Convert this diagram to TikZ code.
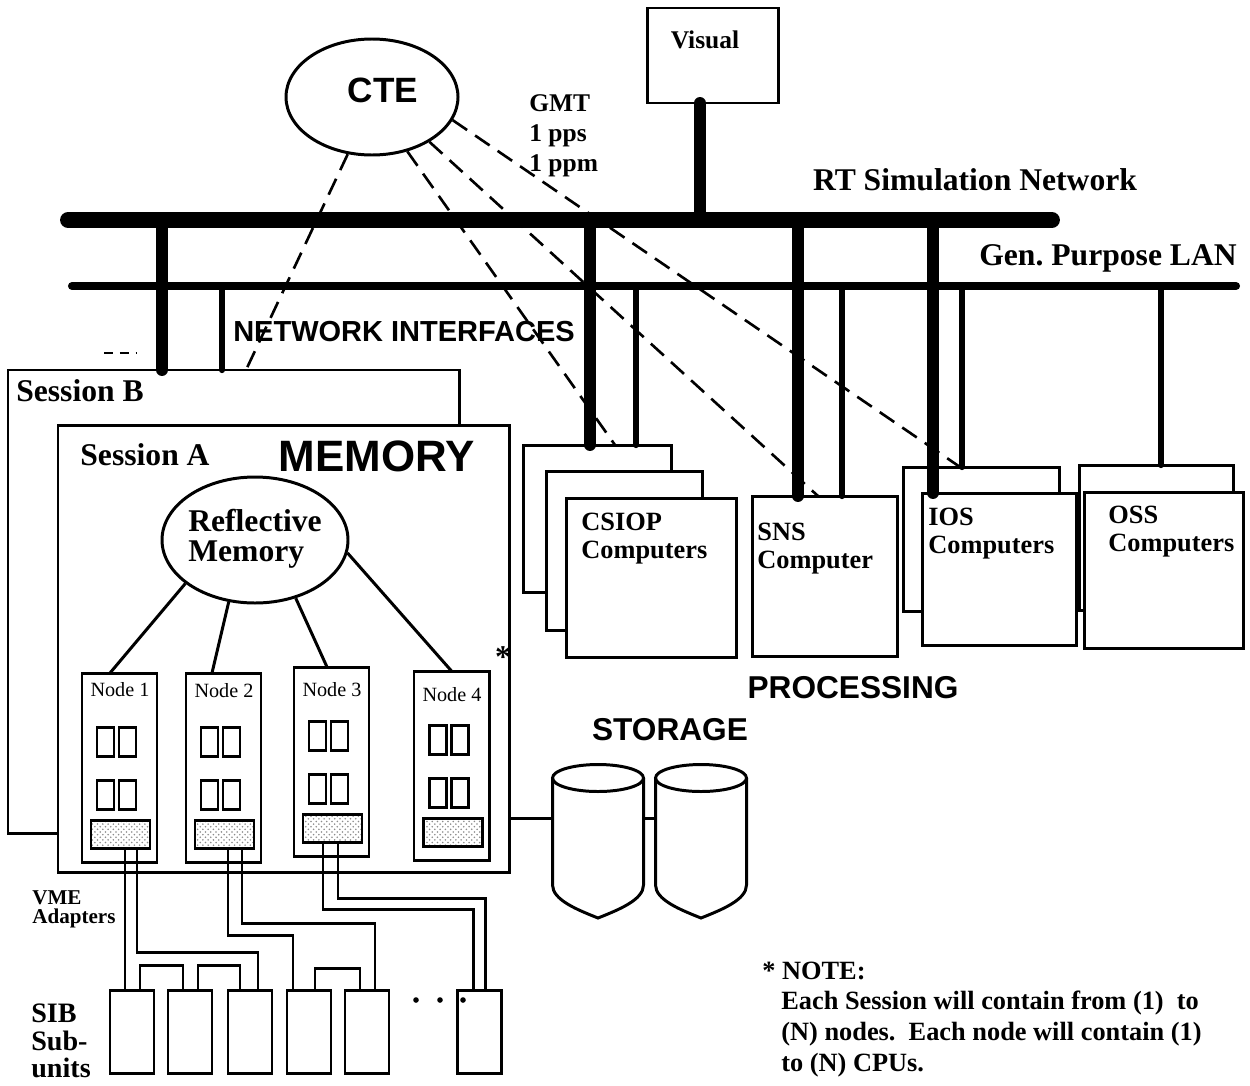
\documentclass[tikz,border=0pt]{standalone}
\usepackage{fontspec}
\setmainfont{Liberation Serif}
\setsansfont{Liberation Sans}
\usepackage{tikz}
\usetikzlibrary{calc,positioning,shapes.geometric,patterns}

\begin{document}
\begin{tikzpicture}[x=0.02cm, y=-0.02cm]

% =========================
% Layout Values
% =========================
\def\pxu{0.02cm} % one grid step
\def\rtY{220}    % RT simulation network bar
\def\lanY{286}   % general purpose LAN bar

\useasboundingbox (0,0) rectangle (1250,1085);

% =========================
% Styles
% =========================
\tikzset{
    boxline/.style={draw, line width=1.7pt},
    panel/.style={
        boxline,
        fill=white,
        anchor=north west,
        inner sep=0pt,
        outer sep=0pt
    },
    adapter/.style={
        boxline,
        pattern=crosshatch dots,
        pattern color=black!45,
        anchor=north west,
        inner sep=0pt,
        outer sep=0pt
    },
    rtbus/.style={line width=9pt, line cap=round},
    lanbus/.style={line width=4.6pt, line cap=round},
    rtdrop/.style={line width=6.8pt, line cap=round},
    landrop/.style={line width=3.6pt, line cap=round},
    timing/.style={line width=1.5pt, dash pattern=on 10pt off 5.5pt},
    wire/.style={line width=1.7pt},
    serlbl/.style={font=\bfseries\fontsize{18}{17}\selectfont, inner sep=0pt},
    boxlbl/.style={
        font=\bfseries\fontsize{15}{15.5}\selectfont,
        align=left,
        anchor=north west,
        inner sep=0pt
    },
    nodelbl/.style={font=\fontsize{11.5}{12}\selectfont, inner sep=0pt},
    sanslbl/.style={font=\sffamily\bfseries\fontsize{18}{20}\selectfont, inner sep=0pt}
}

% =========================
% Timing source & visual
% =========================
\node[panel, minimum width=131*\pxu, minimum height=95*\pxu] (visual) at (647,8) {};
\node[font=\bfseries\fontsize{14.5}{16}\selectfont, inner sep=0pt] (visual-lbl) at (705,40) {Visual};

\node[ellipse, boxline, fill=white, minimum width=172*\pxu, minimum height=116*\pxu,
      inner sep=0pt] (cte) at (372,97) {};
\node[sanslbl, font=\sffamily\bfseries\fontsize{20}{22}\selectfont] (cte-lbl) at (383,90) {CTE};

\node[anchor=north west, align=left, inner sep=0pt,
      font=\bfseries\fontsize{14.5}{17.2}\selectfont] (gmt-lbl) at (529,94) {GMT\\1 pps\\1 ppm};

% =========================
% Sessions
% =========================
\node[panel, minimum width=451*\pxu, minimum height=463*\pxu] (sessB) at (8,370) {};
\node[panel, minimum width=451*\pxu, minimum height=447*\pxu] (sessA) at (58,425) {};

\node[serlbl] (sessB-lbl) at (80,391) {Session B};
\node[serlbl] (sessA-lbl) at (145,455) {Session A};
\node[sanslbl, font=\sffamily\bfseries\fontsize{25}{27}\selectfont] (mem-lbl) at (377,456) {MEMORY};
\node[serlbl] (star) at (503,657) {*};

\draw[line width=1pt, dash pattern=on 5pt off 4pt] (104,353) -- (136,353);

% Reflective memory
\node[ellipse, boxline, fill=white, minimum width=186*\pxu, minimum height=126*\pxu,
      inner sep=0pt] (rm) at (255,540) {};
\node[serlbl, align=left] (rm-lbl) at (255,539) {Reflective\\Memory};

% Nodes with CPUs and VME adapters
\foreach \i/\x/\y/\ly in {1/82/673/690, 2/186/673/691, 3/294/667/690, 4/414/671/695} {
    \node[panel, minimum width=75*\pxu, minimum height=189*\pxu] (n\i) at (\x,\y) {};
    \node[nodelbl] (n\i-lbl) at (\x+38,\ly) {Node \i};
    \foreach \cx in {15,37}
        \foreach \cy in {54,107}
            \draw[boxline] (\x+\cx,\y+\cy) rectangle ++(17,29);
    \node[adapter, minimum width=59*\pxu, minimum height=28*\pxu] (ad\i) at (\x+9,\y+147) {};
}

\draw[boxline] (rm.212) -- ([xshift=-9.5*\pxu]n1.north);
\draw[boxline] (rm.247) -- ([xshift=-11.5*\pxu]n2.north);
\draw[boxline] (rm.305) -- ([xshift=-4.5*\pxu]n3.north);
\draw[boxline] (rm.352) -- (n4.north);

% =========================
% Processing
% =========================
\foreach \nm/\x/\y/\w/\h in {csiop1/523/445/148/147, csiop2/546/471/156/159,
    csiop3/566/498/170/159, sns/752/496/145/160, ios1/903/467/156/144,
    ios2/922/493/154/152, oss1/1079/465/154/145, oss2/1084/492/159/156}
    \node[panel, minimum width=\w*\pxu, minimum height=\h*\pxu] (\nm) at (\x,\y) {};

\node[boxlbl] (csiop-lbl) at (581,513) {CSIOP\\Computers};
\node[boxlbl] (sns-lbl) at (757,523) {SNS\\Computer};
\node[boxlbl] (ios-lbl) at (928,508) {IOS\\Computers};
\node[boxlbl] (oss-lbl) at (1108,506) {OSS\\Computers};

\node[sanslbl] (proc-lbl) at (853,688) {PROCESSING};

% =========================
% Network drops & buses
% =========================
\foreach \nm/\x/\tgt in {sb/162/sessB, csiop/590/csiop1, sns/798/sns, ios/933/ios2} {
    \coordinate (rt-\nm) at (\x,\rtY);
    \draw[rtdrop] (rt-\nm) -- (rt-\nm |- \tgt.north);
}
\foreach \nm/\x/\tgt in {sb/222/sessB, csiop/636/csiop1, sns/842/sns, ios/962/ios1, oss/1161/oss1} {
    \coordinate (lan-\nm) at (\x,\lanY);
    \draw[landrop] (lan-\nm) -- (lan-\nm |- \tgt.north);
}
\coordinate (rt-vis) at (700,\rtY);
\draw[rtdrop] (rt-vis) -- (rt-vis |- visual.south);

\coordinate (rt-w) at (68,\rtY);
\coordinate (rt-e) at (1052,\rtY);
\coordinate (lan-w) at (72,\lanY);
\coordinate (lan-e) at (1236,\lanY);
\draw[rtbus] (rt-w) -- (rt-e);
\draw[lanbus] (lan-w) -- (lan-e);

\node[serlbl] (rt-lbl) at (975,180) {RT Simulation Network};
\node[serlbl] (lan-lbl) at (1108,258) {Gen.\ Purpose LAN};
\node[sanslbl, font=\sffamily\bfseries\fontsize{16.5}{18}\selectfont] (netif-lbl) at (404,332) {NETWORK INTERFACES};

% GMT / 1 pps / 1 ppm timing lines
\draw[timing] (cte.247) -- ([xshift=238*\pxu]sessB.north west);
\draw[timing] (cte.303) -- ([xshift=92*\pxu]csiop1.north west);
\draw[timing] (cte.322) -- ([xshift=66*\pxu]sns.north west);
\draw[timing] (cte.344) -- ([xshift=57*\pxu]ios1.north west);

% =========================
% Storage
% =========================
\foreach \cx/\nm in {598/cyl1, 701/cyl2} {
    \draw[boxline, fill=white] (\cx-45.5,778) -- (\cx-45.5,885)
        .. controls (\cx-45.5,900) and (\cx-20,910) .. (\cx,918)
        .. controls (\cx+20,910) and (\cx+45.5,900) .. (\cx+45.5,885)
        -- (\cx+45.5,778);
    \draw[boxline] (\cx,778) ellipse [x radius=45.5*\pxu, y radius=13.5*\pxu];
    \coordinate (\nm-w) at (\cx-45.5,818);
    \coordinate (\nm-e) at (\cx+45.5,818);
}
\draw[boxline] (cyl1-w -| sessA.east) -- (cyl1-w);
\draw[boxline] (cyl1-e) -- (cyl2-w);

\node[sanslbl] (stor-lbl) at (670,730) {STORAGE};

% =========================
% SIB sub-units & VME wiring
% =========================
\foreach \i/\x in {1/110, 2/168, 3/228, 4/287, 5/345, 6/457}
    \node[panel, minimum width=44*\pxu, minimum height=83*\pxu] (sib\i) at (\x,990) {};
\foreach \dx in {416,440,463}
    \fill (\dx,1000) circle [radius=2.8*\pxu];

\draw[wire] ([xshift=4.5*\pxu]ad1.south) -- ([xshift=4.5*\pxu]ad1.south |- sib1.north);
\draw[wire] ([xshift=16.5*\pxu]ad1.south) -- ++(0,104) -| ([xshift=8*\pxu]sib3.north);
\draw[wire] ([xshift=3.5*\pxu]ad2.south) -- ++(0,87) -| ([xshift=-16*\pxu]sib4.north);
\draw[wire] ([xshift=17.5*\pxu]ad2.south) -- ++(0,75) -| ([xshift=8*\pxu]sib5.north);
\draw[wire] ([xshift=-9.5*\pxu]ad3.south) -- ++(0,67) -| ([xshift=-6*\pxu]sib6.north);
\draw[wire] ([xshift=5.5*\pxu]ad3.south) -- ++(0,56) -| ([xshift=6*\pxu]sib6.north);

\draw[wire] ([xshift=8*\pxu]sib1.north) -- ++(0,-25) -| ([xshift=-7*\pxu]sib2.north);
\draw[wire] ([xshift=8*\pxu]sib2.north) -- ++(0,-25) -| ([xshift=-10*\pxu]sib3.north);
\draw[wire] ([xshift=6*\pxu]sib4.north) -- ++(0,-22) -| ([xshift=-7*\pxu]sib5.north);

\node[anchor=north west, align=left, inner sep=0pt,
      font=\bfseries\fontsize{12}{11}\selectfont] (vme-lbl) at (32,890) {VME\\Adapters};
\node[anchor=north west, align=left, inner sep=0pt,
      font=\bfseries\fontsize{16}{15.5}\selectfont] (sib-lbl) at (31,1004) {SIB\\Sub-\\units};

% =========================
% Note
% =========================
\node[anchor=north west, inner sep=0pt, font=\bfseries\fontsize{15}{17.5}\selectfont]
    (note-hd) at (762,962) {* NOTE:};
\node[anchor=north west, align=left, inner sep=0pt, font=\bfseries\fontsize{15}{17.5}\selectfont]
    (note-txt) at (781,991) {Each Session will contain from (1)\ \ to\\(N) nodes.\ \ Each node will contain (1)\\to (N) CPUs.};

\end{tikzpicture}
\end{document}
